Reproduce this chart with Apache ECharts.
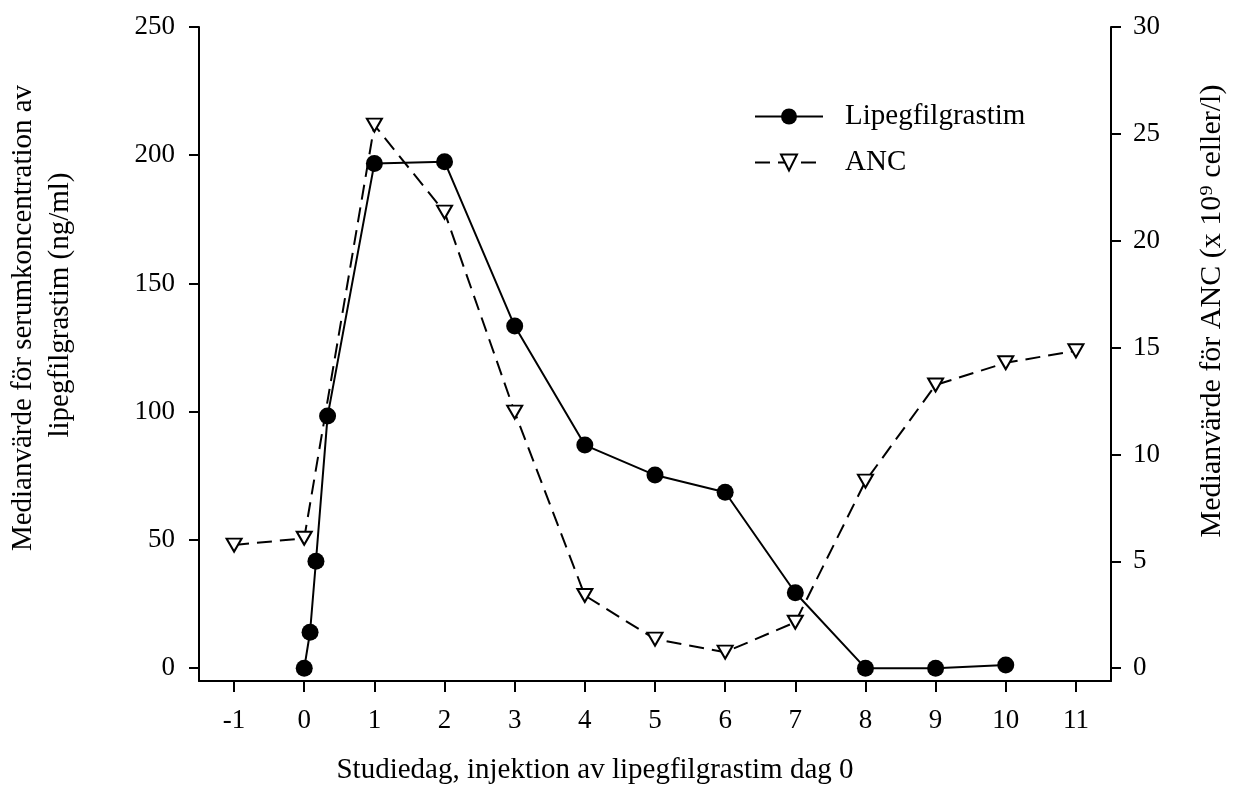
<!DOCTYPE html>
<html lang="sv">
<head>
    <meta charset="UTF-8">
    <title>Lipegfilgrastim och ANC</title>
    <script src="https://cdn.jsdelivr.net/npm/echarts@6/dist/echarts.min.js"></script>
</head>
<body style="margin:0">
<div id="main" style="width: 1234px;height: 793px"></div>

<script type="text/javascript">
    // studiedag (dagar) och medianvärden
    var dagLipeg = [0, 0.083, 0.167, 0.333, 1, 2, 3, 4, 5, 6, 7, 8, 9, 10];
    var lipeg = [0, 14, 41.7, 98.3, 196.8, 197.5, 133.4, 87, 75.3, 68.6, 29.4, 0, 0, 1.2];
    var dagAnc = [-1, 0, 1, 2, 3, 4, 5, 6, 7, 8, 9, 10, 11];
    var anc = [5.76, 6.08, 25.41, 21.34, 11.98, 3.4, 1.36, 0.75, 2.15, 8.75, 13.25, 14.29, 14.85];

    var xTicks = [-1, 0, 1, 2, 3, 4, 5, 6, 7, 8, 9, 10, 11];
    var yTicksLeft = [0, 50, 100, 150, 200, 250];
    var yTicksRight = [0, 5, 10, 15, 20, 25, 30];

    function pairs(xs, ys) {
        return xs.map(function (x, i) { return [x, ys[i]]; });
    }

    var font = 'Liberation Serif';
    var titleFont = '29px "Liberation Serif"';
    var axisLine = {show: true, onZero: false, lineStyle: {color: '#000', width: 2}};
    var tick = {show: true, length: 10, lineStyle: {color: '#000', width: 2}};

    var myChart = echarts.init(document.getElementById('main'));

    var option = {
        backgroundColor: '#fff',
        animation: false,
        grid: {left: 199, right: 123, top: 27, bottom: 112},
        legend: {
            orient: 'vertical',
            left: 749,
            top: 97,
            itemWidth: 68,
            itemHeight: 20,
            itemGap: 17,
            textStyle: {fontFamily: font, fontSize: 29, color: '#000', padding: [0, 0, 0, 17]},
            data: ['Lipegfilgrastim', 'ANC']
        },
        xAxis: {
            type: 'value',
            min: -1.5,
            max: 11.5,
            axisLine: axisLine,
            axisTick: Object.assign({customValues: xTicks}, tick, {length: 11}),
            axisLabel: {fontFamily: font, fontSize: 27, color: '#000', margin: 26, customValues: xTicks},
            splitLine: {show: false}
        },
        yAxis: [{
            type: 'value',
            min: -5,
            max: 250,
            position: 'left',
            axisLine: axisLine,
            axisTick: Object.assign({customValues: yTicksLeft}, tick),
            axisLabel: {fontFamily: font, fontSize: 27, color: '#000', margin: 24, customValues: yTicksLeft},
            splitLine: {show: false}
        }, {
            type: 'value',
            min: -0.6,
            max: 30,
            position: 'right',
            axisLine: axisLine,
            axisTick: Object.assign({customValues: yTicksRight}, tick),
            axisLabel: {fontFamily: font, fontSize: 27, color: '#000', margin: 22, customValues: yTicksRight},
            splitLine: {show: false}
        }],
        graphic: [{
            type: 'text', x: 23, y: 318, rotation: Math.PI / 2,
            style: {text: 'Medianvärde för serumkoncentration av', font: titleFont,
                fill: '#000', align: 'center', verticalAlign: 'middle'}
        }, {
            type: 'text', x: 60, y: 305, rotation: Math.PI / 2,
            style: {text: 'lipegfilgrastim (ng/ml)', font: titleFont,
                fill: '#000', align: 'center', verticalAlign: 'middle'}
        }, {
            type: 'text', x: 1212, y: 311, rotation: Math.PI / 2,
            style: {text: 'Medianvärde för ANC (x 10⁹ celler/l)', font: '30px "Liberation Serif"',
                fill: '#000', align: 'center', verticalAlign: 'middle'}
        }, {
            type: 'text', x: 595, y: 770,
            style: {text: 'Studiedag, injektion av lipegfilgrastim dag 0', font: titleFont,
                fill: '#000', align: 'center', verticalAlign: 'middle'}
        }],
        series: [{
            name: 'Lipegfilgrastim',
            type: 'line',
            yAxisIndex: 0,
            data: pairs(dagLipeg, lipeg),
            symbol: 'circle',
            symbolSize: 17,
            itemStyle: {color: '#000'},
            lineStyle: {color: '#000', width: 2},
            z: 3
        }, {
            name: 'ANC',
            type: 'line',
            yAxisIndex: 1,
            data: pairs(dagAnc, anc),
            symbol: 'triangle',
            symbolRotate: 180,
            symbolSize: [15, 13],
            showAllSymbol: true,
            itemStyle: {color: '#fff', borderColor: '#000', borderWidth: 2},
            lineStyle: {color: '#000', width: 2, type: [15, 8]},
            z: 2
        }]
    };

    myChart.setOption(option);
</script>
</body>
</html>
